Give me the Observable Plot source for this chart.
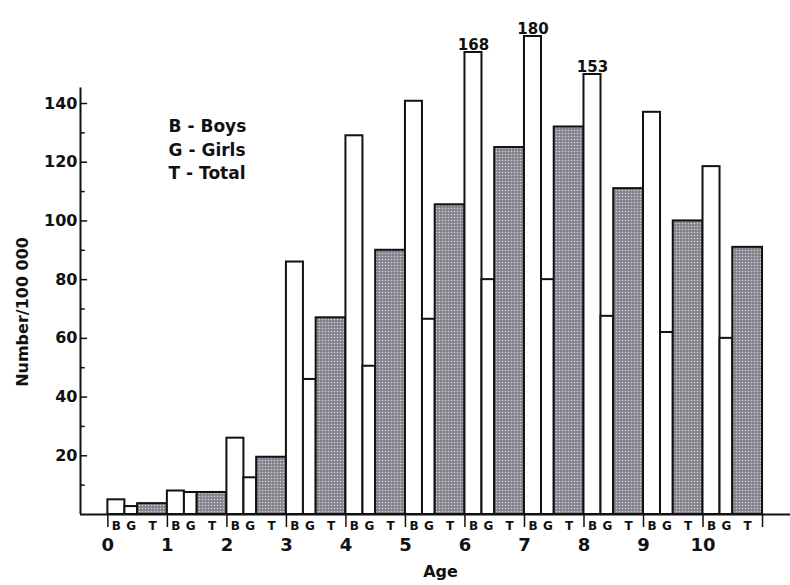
<!DOCTYPE html>
<html>
<head>
<meta charset="utf-8">
<script src="https://cdn.jsdelivr.net/npm/d3@7"></script>
<script src="https://cdn.jsdelivr.net/npm/@observablehq/plot@0.6"></script>
<style>
  body { margin: 0; background: #fff; }
  svg { display: block; }
</style>
</head>
<body>
<div id="chart"></div>
<script>
// Incidence per 100 000 by age, for boys, girls and the total
const ages  = [0, 1, 2, 3, 4, 5, 6, 7, 8, 9, 10];
const boys  = [5, 8, 26, 86, 129, 141, 168, 180, 153, 137, 118.5];
const girls = [2.7, 7.5, 12.5, 46, 50.5, 66.5, 80, 80, 67.5, 62, 60];
const total = [3.7, 7.5, 19.5, 67, 90, 105.5, 125, 132, 111, 100, 91];

const seriesKeys   = ["B", "G", "T"];
const legendLines  = ["B - Boys", "G - Girls", "T - Total"];
const yTicks       = [20, 40, 60, 80, 100, 120, 140];
const yMinorTicks  = [10, 30, 50, 70, 90, 110, 130];
const ageTicks     = [0, 1, 2, 3, 4, 5, 6, 7, 8, 9, 10, 11];
const yTitle       = "Number/100 000";
const xTitle       = "Age";

// each age group is one unit wide: narrow B, narrow G, then a wide T bar
const slots = { B: [0, 0.286], G: [0.286, 0.5], T: [0.5, 1] };
const seriesValues = { B: boys, G: girls, T: total };

const bars = ages.flatMap((age, i) =>
  seriesKeys.map(key => ({
    age, key,
    value: seriesValues[key][i],
    x1: age + slots[key][0],
    x2: age + slots[key][1],
    xm: age + (slots[key][0] + slots[key][1]) / 2
  }))
);

const xMin = -0.46, xMax = 11.47;
const font = "'DejaVu Sans', Verdana, sans-serif";

const svg = Plot.plot({
  width: 790,
  height: 585,
  marginLeft: 80,
  marginRight: 0,
  marginTop: 10,
  marginBottom: 71,
  style: { fontFamily: font, color: "#111", background: "#fff" },
  x: { type: "linear", domain: [xMin, xMax] },
  // the scale is broken above 140, so the tallest bars are compressed
  y: { type: "linear", domain: [0, 140, 153, 168, 180], range: [514, 103, 74, 52, 36] },
  marks: [
    // bars
    Plot.rectY(bars, {
      x1: "x1", x2: "x2", y1: 0, y2: "value",
      fill: d => d.key === "T" ? "url(#stipple)" : "#fff",
      stroke: "#111", strokeWidth: 2
    }),
    // values written above the bars that leave the scale
    Plot.text(bars.filter(d => d.key === "B" && d.value > 150), {
      x: "xm", y: "value", text: d => String(d.value),
      lineAnchor: "bottom", dy: -3, fontSize: 15, fontWeight: "bold", fill: "#111"
    }),
    // axes lines
    Plot.ruleY([0], { stroke: "#111", strokeWidth: 2 }),
    Plot.ruleX([xMin], { y1: 0, y2: 147, stroke: "#111", strokeWidth: 2 }),
    // inward y ticks
    Plot.ruleY(yTicks, { x1: xMin, x2: xMin + 0.12, stroke: "#111", strokeWidth: 1.5 }),
    Plot.ruleY(yMinorTicks, { x1: xMin, x2: xMin + 0.08, stroke: "#111", strokeWidth: 1.5 }),
    Plot.axisY({
      ticks: yTicks, tickSize: 0, tickPadding: 3, label: null,
      fontSize: 16, fontWeight: "bold"
    }),
    Plot.axisX({
      ticks: ageTicks, tickSize: 13, tickPadding: 11, strokeWidth: 1.5,
      tickFormat: d => d <= 10 ? String(d) : "", label: null,
      fontSize: 18, fontWeight: "bold"
    }),
    // B / G / T under every group
    Plot.text(bars, {
      x: "xm", y: 0, text: "key", dy: 12,
      fontSize: 12, fontWeight: "bold", fill: "#111"
    }),
    // axis titles
    Plot.text([yTitle], {
      frameAnchor: "left", y: [69], dx: -58, rotate: -90, textAnchor: "middle",
      fontSize: 16, fontWeight: "bold", fill: "#111", letterSpacing: "1px"
    }),
    Plot.text([xTitle], {
      frameAnchor: "bottom", dx: 5, dy: 62,
      fontSize: 16, fontWeight: "bold", fill: "#111"
    }),
    // key
    Plot.text(legendLines, {
      x: 1.02, y: [132, 124, 116.2], text: d => d,
      textAnchor: "start", fontSize: 17, fontWeight: "bold", fill: "#111",
      letterSpacing: "0.6px"
    })
  ]
});

// stippled grey used for the totals
const defs = document.createElementNS("http://www.w3.org/2000/svg", "defs");
defs.innerHTML = `
  <pattern id="stipple" width="3" height="3" patternUnits="userSpaceOnUse">
    <rect width="3" height="3" fill="#85838c"/>
    <circle cx="1.5" cy="1.5" r="0.75" fill="#d6d4da"/>
  </pattern>`;
svg.prepend(defs);

document.getElementById("chart").append(svg);
</script>
</body>
</html>
